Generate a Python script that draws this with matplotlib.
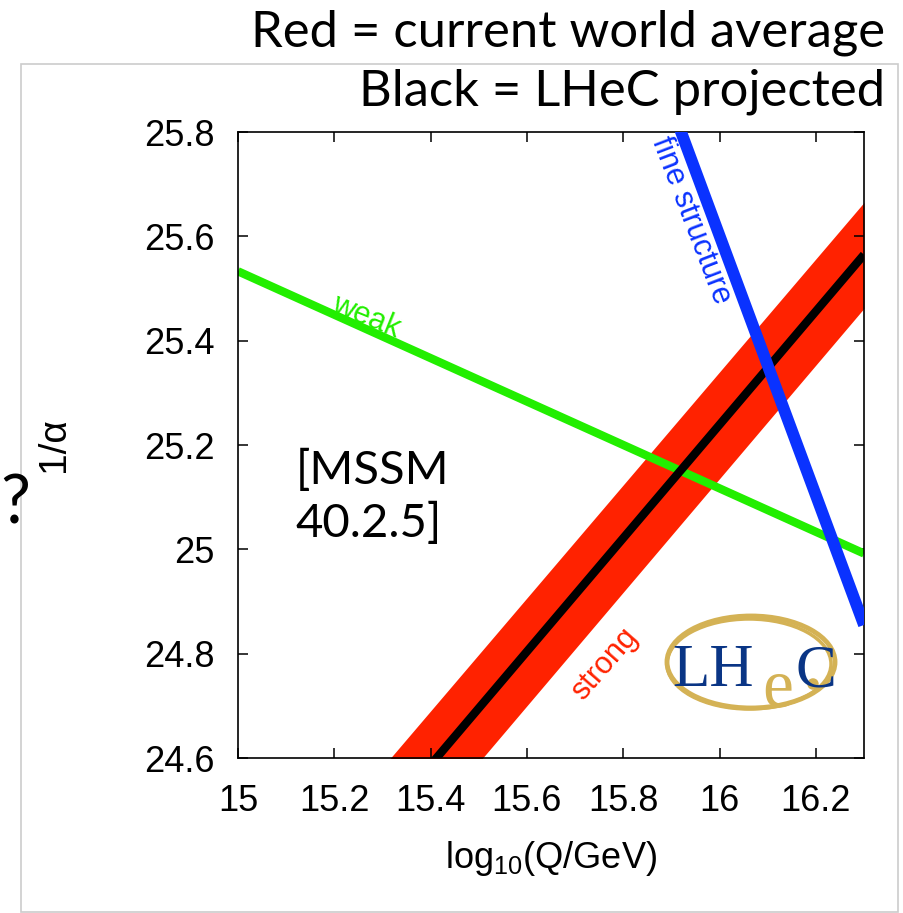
import matplotlib
matplotlib.use('Agg')
import matplotlib.pyplot as plt
from matplotlib.patches import Rectangle, Ellipse, Circle

W, H = 904, 913

# Datos de las rectas (log10 Q vs 1/alpha)
q_log = [15.0, 16.3]
strong_centro = [24.152, 25.565]
strong_arriba = [24.257, 25.665]
strong_abajo = [24.047, 25.462]
weak = [25.533, 24.992]
fine_q = [15.90, 16.30]
fine = [25.85, 24.855]

xticks = [15, 15.2, 15.4, 15.6, 15.8, 16, 16.2]
xticklabels = ['15', '15.2', '15.4', '15.6', '15.8', '16', '16.2']
yticks = [24.6, 24.8, 25.0, 25.2, 25.4, 25.6, 25.8]
yticklabels = ['24.6', '24.8', '25', '25.2', '25.4', '25.6', '25.8']

fuente = 'Liberation Sans'
fuente2 = 'Lato'
plt.rcParams['mathtext.fontset'] = 'custom'
plt.rcParams['mathtext.rm'] = fuente
plt.rcParams['mathtext.it'] = fuente


def fx(px):
    return px / W


def fy(py):
    return 1 - py / H


fig = plt.figure(figsize=(W / 100, H / 100), dpi=100)

# marco gris de fondo
fig.add_artist(Rectangle((fx(21), fy(912)), fx(898) - fx(21), fy(64) - fy(912),
                         transform=fig.transFigure, fill=False,
                         edgecolor='#cccccc', linewidth=1.2))

ax = fig.add_axes([fx(238), fy(758), fx(864) - fx(238), fy(132) - fy(758)])

ax.fill_between(q_log, strong_abajo, strong_arriba, color='#ff2200', linewidth=0, zorder=1)
ax.plot(q_log, weak, color='#22ee00', linewidth=6, solid_capstyle='butt', zorder=2)
ax.plot(q_log, strong_centro, color='black', linewidth=6, solid_capstyle='butt', zorder=3)
ax.plot(fine_q, fine, color='#0a32ff', linewidth=8.5, solid_capstyle='butt', zorder=4)

ax.set_xlim(15, 16.3)
ax.set_ylim(24.6, 25.8)
ax.set_xticks(xticks)
ax.set_xticklabels(xticklabels)
ax.set_yticks(yticks)
ax.set_yticklabels(yticklabels)

ax.tick_params(direction='in', length=7, width=1.1, top=True, right=True,
               labelsize=26)
ax.tick_params(axis='y', pad=17)
ax.tick_params(axis='x', pad=19)
for lab in ax.get_xticklabels() + ax.get_yticklabels():
    lab.set_family(fuente)
for s in ax.spines.values():
    s.set_linewidth(1.2)

ax.set_xlabel('log$_{10}$(Q/GeV)', fontsize=26, family=fuente, labelpad=14)
ax.set_ylabel('1/α', fontsize=28, family=fuente, labelpad=52)

# etiquetas de las rectas
ax.text(15.266, 25.446, 'weak', color='#22ee00', fontsize=22, family=fuente,
        rotation=-22, ha='center', va='center')
ax.text(15.94, 25.63, 'fine structure', color='#0a32ff', fontsize=22, family=fuente,
        rotation=-69, ha='center', va='center')
ax.text(15.761, 24.78, 'strong', color='#ff2200', fontsize=22, family=fuente,
        rotation=49, ha='center', va='center')

ax.text(15.12, 25.1, '[MSSM\n40.2.5]', fontsize=34, family=fuente2,
        ha='left', va='center', linespacing=1.28)

# logo LHeC
fig.add_artist(Ellipse((fx(751), fy(662)), 168 / W, 92 / H, transform=fig.transFigure,
                       fill=False, edgecolor='#d4b255', linewidth=3.5))
fig.add_artist(Ellipse((fx(749), fy(664)), 164 / W, 90 / H, transform=fig.transFigure,
                       fill=False, edgecolor='#d4b255', linewidth=2.5))
fig.text(fx(672), fy(686), 'LH', fontsize=44, family='Liberation Serif',
         color='#0a3585', ha='left', va='baseline')
fig.text(fx(796), fy(686), 'C', fontsize=44, family='Liberation Serif',
         color='#0a3585', ha='left', va='baseline')
fig.text(fx(762), fy(706), 'e', fontsize=50, family='Liberation Serif',
         color='#d4b255', ha='left', va='baseline')
fig.add_artist(Circle((fx(813), fy(684)), 5 / W, transform=fig.transFigure,
                      color='#d4b255'))

# textos de arriba
fig.text(fx(885), fy(33), 'Red = current world average', fontsize=36.5, family=fuente2,
         ha='right', va='center')
fig.text(fx(885), fy(92), 'Black = LHeC projected', fontsize=36.5, family=fuente2,
         ha='right', va='center')
fig.text(fx(0), fy(505), '?', fontsize=48, family=fuente2, ha='left', va='center')

fig.savefig('out.png', dpi=100)
